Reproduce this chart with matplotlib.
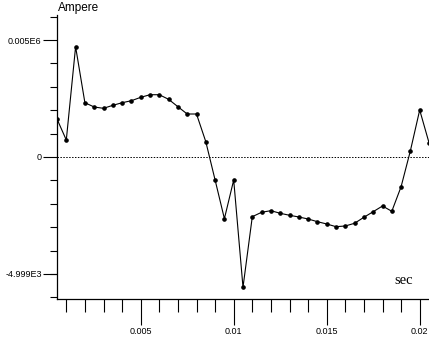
# CURRENT WAVEFORM: AMPERE VS SEC

#----------------------- IMPORTS -------------------------#

import numpy as np
import matplotlib.pyplot as plt
from matplotlib.ticker import MultipleLocator, FixedLocator

#------------------------- DATA --------------------------#

t_start = 0.0005
t_step = 0.0005

amps = [1624, 726, 4714, 2320, 2137, 2081, 2209, 2320, 2406, 2551,
        2662, 2662, 2466, 2150, 1838, 1838, 654, -983, -2637, -983,
        -5568, -2551, -2363, -2295, -2406, -2491, -2564, -2650, -2765, -2863,
        -2979, -2949, -2833, -2577, -2338, -2094, -2321, -1269, 269, 2009,
        611]

secs = [t_start + t_step * i for i in range(len(amps))]

y_ticks = [5000, 0, -4999]
y_labels = ["0.005E6", "0", "-4.999E3"]
x_ticks = [0.005, 0.01, 0.015, 0.02]
x_labels = ["0.005", "0.01", "0.015", "0.02"]

#------------------------- PLOT --------------------------#

plt.rcParams['font.family'] = ['Liberation Sans', 'DejaVu Sans']

fig = plt.figure(figsize=(4.29, 3.38), dpi=100)
ax = fig.add_axes([57 / 429, 39 / 338, 1 - 57 / 429, 284 / 338])

ax.axhline(0, color="black", linestyle=(0, (1.5, 1.5)), linewidth=0.7)
ax.plot(secs, amps, color="black", linewidth=0.8, marker="o", markersize=2.3,
        clip_on=True)

ax.set_xlim(0.0005, 0.0205)
ax.set_ylim(-6070, 6070)

ax.spines['top'].set_visible(False)
ax.spines['right'].set_visible(False)
ax.spines['left'].set_linewidth(0.9)
ax.spines['bottom'].set_linewidth(0.9)

ax.yaxis.set_major_locator(FixedLocator(y_ticks))
ax.set_yticklabels(y_labels)
ax.yaxis.set_minor_locator(MultipleLocator(1000))
ax.xaxis.set_major_locator(FixedLocator(x_ticks))
ax.set_xticklabels(x_labels)
ax.xaxis.set_minor_locator(MultipleLocator(0.001))

ax.tick_params(axis='y', which='major', direction='out', length=10, width=0.8,
               labelsize=6.5, pad=1)
ax.tick_params(axis='y', which='minor', direction='out', length=5, width=0.8)
ax.tick_params(axis='x', which='major', direction='out', length=19, width=0.8,
               labelsize=6.5, pad=1)
ax.tick_params(axis='x', which='minor', direction='out', length=9.5, width=0.8)

fig.text(58 / 429, 1 - 8 / 338, "Ampere", fontsize=8.5, ha="left", va="center")
fig.text(404 / 429, 1 - 281 / 338, "sec", fontsize=10.5, ha="center", va="center",
         family="Liberation Serif")

plt.savefig("out.png", dpi=100)
